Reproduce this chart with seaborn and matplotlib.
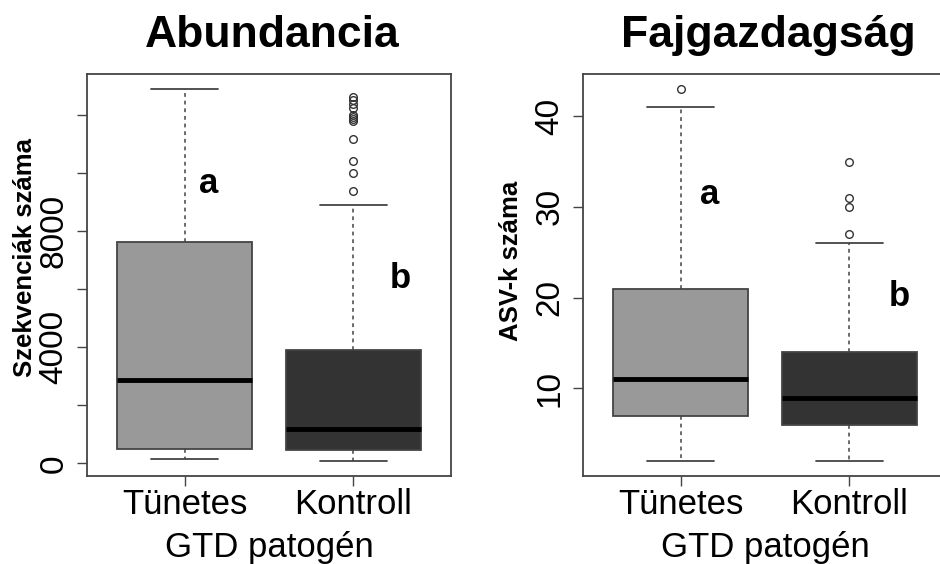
import matplotlib
matplotlib.use("Agg")
import matplotlib.pyplot as plt
import seaborn as sns

sns.set_style("white")
plt.rcParams["font.family"] = ["Liberation Sans", "DejaVu Sans"]
plt.rcParams["text.color"] = "black"
plt.rcParams["axes.labelcolor"] = "black"

# Groups and their box fills
groups = ["Tünetes", "Kontroll"]
fills = ["#999999", "#333333"]

# Abundancia: number of sequences per sample (five-number summaries + outliers)
abund_whislo = [140, 80]
abund_q1 = [480, 450]
abund_med = [2860, 1170]
abund_q3 = [7640, 3890]
abund_whishi = [12900, 8900]
abund_fliers = [
    [],
    [12620, 12510, 12390, 12240, 12010, 11930, 11860, 11810, 11180, 10430, 10010, 9370],
]
abund_ticks = [0, 2000, 4000, 6000, 8000, 10000, 12000]
abund_ticklabels = ["0", "", "4000", "", "8000", "", ""]
abund_letters = ["a", "b"]
abund_letter_y = [9330, 6050]

# Fajgazdagság: number of ASVs per sample
rich_whislo = [2, 2]
rich_q1 = [7, 6]
rich_med = [11, 9]
rich_q3 = [21, 14]
rich_whishi = [41, 26]
rich_fliers = [[43], [35, 31, 30, 27]]
rich_ticks = [10, 20, 30, 40]
rich_ticklabels = ["10", "20", "30", "40"]
rich_letters = ["a", "b"]
rich_letter_y = [30.3, 19.1]

W, H = 940, 564
fig = plt.figure(figsize=(W / 100, H / 100), dpi=100)

EDGE = "#444444"


def panel(left_px, title, ylabel, ylabel_xy, whislo, q1, med, q3, whishi, fliers,
          ticks, ticklabels, letters, letter_y, letter_xs):
    ax = fig.add_axes([left_px / W, (H - 476) / H, 364 / W, 402 / H])
    stats = []
    for i, g in enumerate(groups):
        stats.append(dict(label=g, whislo=whislo[i], q1=q1[i], med=med[i],
                          q3=q3[i], whishi=whishi[i], fliers=fliers[i]))
    parts = ax.bxp(stats, positions=[1, 2], widths=0.8, capwidths=0.4,
                   patch_artist=True, showfliers=True,
                   boxprops=dict(edgecolor=EDGE, linewidth=1.3),
                   whiskerprops=dict(color=EDGE, linewidth=1.1, linestyle=(0, (2.5, 2.5))),
                   capprops=dict(color=EDGE, linewidth=1.3),
                   medianprops=dict(color="black", linewidth=3.5, solid_capstyle="butt"),
                   flierprops=dict(marker="o", markerfacecolor="none",
                                   markeredgecolor="#333333", markersize=5.5,
                                   markeredgewidth=1.0, linestyle="none"))
    for patch, c in zip(parts["boxes"], fills):
        patch.set_facecolor(c)

    lo = min(whislo)
    hi = max(max(whishi), max([max(f) if f else lo for f in fliers]))
    span = hi - lo
    ax.set_ylim(lo - 0.04 * span, hi + 0.04 * span)
    ax.set_xlim(0.42, 2.58)

    ax.set_yticks(ticks)
    ax.set_yticklabels(ticklabels, rotation=90, va="center")
    ax.set_xticks([1, 2])
    ax.set_xticklabels(groups)
    ax.tick_params(axis="y", length=7.5, width=1.0, color=EDGE, pad=5,
                   labelsize=24, labelcolor="black", left=True)
    ax.tick_params(axis="x", length=7.5, width=1.0, color=EDGE, pad=1,
                   labelsize=25, labelcolor="black", bottom=True)
    ax.set_xlabel("GTD patogén", fontsize=25, labelpad=7, color="black")
    for s in ax.spines.values():
        s.set_visible(True)
        s.set_color(EDGE)
        s.set_linewidth(1.3)

    for lx, ly, t in zip(letter_xs, letter_y, letters):
        ax.text(lx, ly, t, ha="center", va="baseline", fontsize=25,
                fontweight="bold", color="black")

    cx = (left_px + 185) / W
    fig.text(cx, 1 - 47 / H, title, ha="center", va="baseline",
             fontsize=32, fontweight="bold", color="black")
    fig.text(ylabel_xy[0] / W, 1 - ylabel_xy[1] / H, ylabel, rotation=90,
             ha="center", va="center", fontsize=18.5, fontweight="bold",
             color="black")
    return ax


panel(87, "Abundancia", "Szekvenciák száma", (25, 258),
      abund_whislo, abund_q1, abund_med, abund_q3, abund_whishi, abund_fliers,
      abund_ticks, abund_ticklabels, abund_letters, abund_letter_y, [1.14, 2.28])

panel(583, "Fajgazdagság", "ASV-k száma", (511, 261),
      rich_whislo, rich_q1, rich_med, rich_q3, rich_whishi, rich_fliers,
      rich_ticks, rich_ticklabels, rich_letters, rich_letter_y, [1.17, 2.30])

fig.savefig("out.png", dpi=100)
